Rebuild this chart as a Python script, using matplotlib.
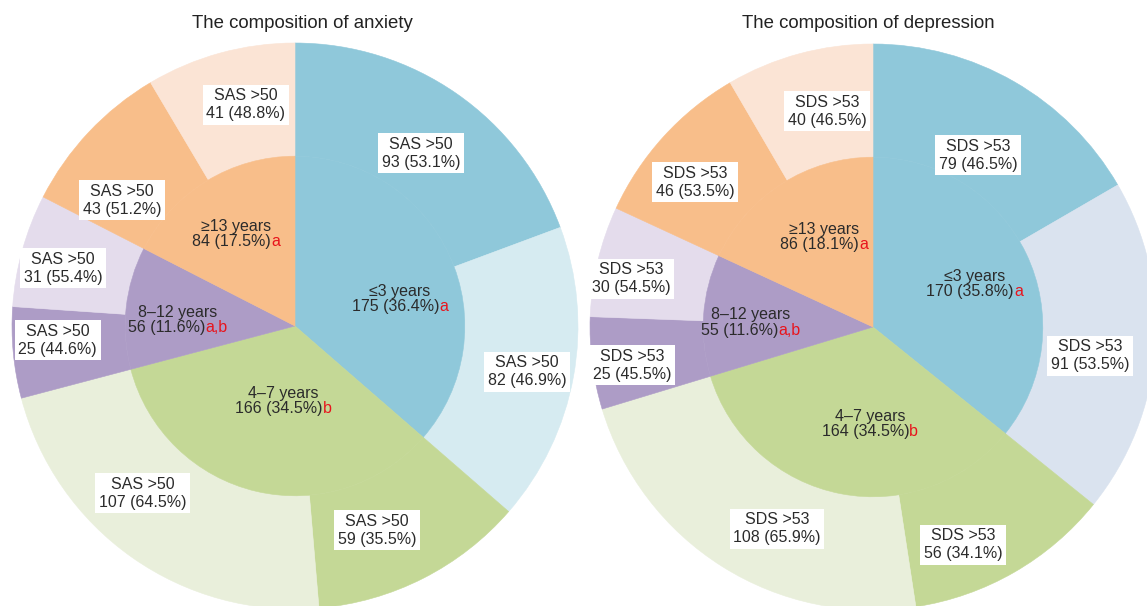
import numpy as np
import matplotlib.pyplot as plt

plt.rcParams['font.family'] = ['Liberation Sans', 'DejaVu Sans']

# ---------------- data ----------------
groups = ['\u22643 years', '4\u20137 years', '8\u201312 years', '\u226513 years']

anx_title = 'The composition of anxiety'
anx_tag = 'SAS >50'
anx_inner = [175, 166, 56, 84]
anx_outer = [93, 82, 59, 107, 25, 31, 43, 41]
anx_marks = ['a', 'b', 'a,b', 'a']

dep_title = 'The composition of depression'
dep_tag = 'SDS >53'
dep_inner = [170, 164, 55, 86]
dep_outer = [79, 91, 56, 108, 25, 30, 46, 40]
dep_marks = ['a', 'b', 'a,b', 'a']

# ---------------- style / layout ----------------
W, H, DPI = 1147, 606, 100
R = 283.0          # circle radius in px
HOLE = 0.60        # inner pie radius (fraction of R)

blue, green, purple, orange = '#8fc8da', '#c4d896', '#ad9cc6', '#f8be8a'
anx_light = ['#d6ebf1', '#e9efdb', '#e4dcec', '#fbe4d5']
dep_light = ['#dae3ef', '#e9efdb', '#e4dcec', '#fbe4d5']
txt_col = '#2b2b2b'
red = '#e8141c'
fs_lab = 11.5

# label spots as (angle deg, radius fraction)
anx_out_pos = [(53.9, .756), (-11.2, .836), (-68.1, .777), (-132.3, .80),
               (183.4, .84), (166, .845), (144, .756), (102.5, .80)]
anx_in_pos = [(14.4, .383), (-99, .268), (177, .416), (122.7, .386)]
dep_out_pos = [(58.6, .712), (-7.6, .774), (-67.6, .833), (-115.4, .79),
               (189, .862), (168.7, .87), (140.9, .81), (102, .78)]
dep_in_pos = [(23, .39), (-91.8, .343), (178, .431), (118.6, .362)]

fig = plt.figure(figsize=(W / DPI, H / DPI), dpi=DPI)
pairs = []   # (value text, red mark) to centre afterwards


def xy(ang, r):
    a = np.deg2rad(ang)
    return r * np.cos(a), r * np.sin(a)


def draw_chart(cx, cy, title, title_x, tag, inner, outer, marks, light,
               out_pos, in_pos):
    ax = fig.add_axes([(cx - 290) / W, 0, 580 / W, 1])
    dark = [blue, green, purple, orange]
    out_cols = []
    for d, l in zip(dark, light):
        out_cols += [d, l]

    w_out, _ = ax.pie(outer, radius=1, startangle=90, counterclock=False,
                      colors=out_cols, wedgeprops=dict(width=1 - HOLE))
    w_in, _ = ax.pie(inner, radius=HOLE, startangle=90, counterclock=False,
                     colors=dark)
    for w in w_out + w_in:
        w.set_edgecolor(w.get_facecolor())
        w.set_linewidth(0.4)

    # outer labels (white boxes)
    for i, v in enumerate(outer):
        tot = inner[i // 2]
        x, y = xy(*out_pos[i])
        ax.text(x, y, '%s\n%d (%.1f%%)' % (tag, v, 100.0 * v / tot),
                ha='center', va='center', ma='center', fontsize=fs_lab,
                color=txt_col, linespacing=1.25,
                bbox=dict(boxstyle='square,pad=0.22', fc='white', ec='none'))

    # inner labels with red superscript letters
    n = sum(inner)
    for i, v in enumerate(inner):
        x, y = xy(*in_pos[i])
        ax.annotate(groups[i], (x, y), xytext=(0, 5.6),
                    textcoords='offset points', ha='center', va='center',
                    fontsize=fs_lab, color=txt_col)
        t = ax.annotate('%d (%.1f%%)' % (v, 100.0 * v / n), (x, y),
                        xytext=(0, -5.6), textcoords='offset points',
                        ha='center', va='center', fontsize=fs_lab,
                        color=txt_col)
        m = ax.annotate(marks[i], xy=(1, 0), xycoords=t, ha='left',
                        va='bottom', fontsize=fs_lab, color=red)
        pairs.append((t, m))

    ax.set_xlim(-290 / R, 290 / R)
    ax.set_ylim(-(H - cy) / R, cy / R)
    ax.axis('off')

    fig.text(title_x / W, 1 - 28 / H, title, ha='center', va='baseline',
             fontsize=13.4, color='#222222')


draw_chart(295, 326, anx_title, 302, anx_tag, anx_inner, anx_outer,
           anx_marks, anx_light, anx_out_pos, anx_in_pos)
draw_chart(873, 327, dep_title, 868, dep_tag, dep_inner, dep_outer,
           dep_marks, dep_light, dep_out_pos, dep_in_pos)

# shift value text left so value + red letter is centred as one line
fig.canvas.draw()
for t, m in pairs:
    w = m.get_window_extent().width * 72.0 / DPI
    t.xyann = (-w / 2.0, -5.6)

fig.savefig('out.png', dpi=DPI)
